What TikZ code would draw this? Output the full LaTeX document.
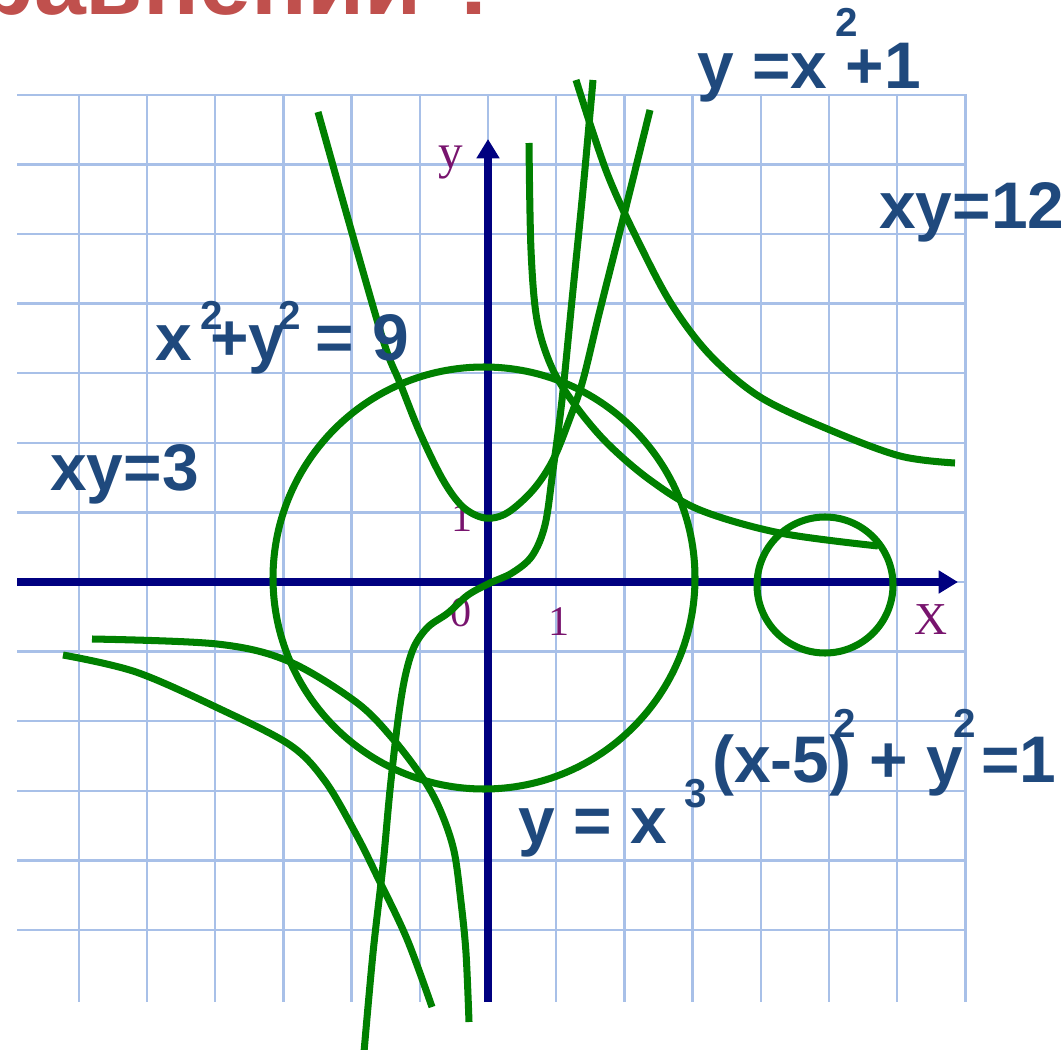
\documentclass[tikz,border=0pt]{standalone}
\usepackage{fontspec}
\setmainfont{Liberation Sans}
\newfontfamily\serifnum{Liberation Serif}
\usetikzlibrary{arrows.meta}
\definecolor{gridblue}{RGB}{168,192,232}
\definecolor{axisblue}{RGB}{0,0,128}
\definecolor{curvegreen}{RGB}{0,128,0}
\definecolor{eqblue}{RGB}{31,73,125}
\definecolor{tickpurple}{RGB}{120,20,110}
\definecolor{titlered}{RGB}{192,80,77}
\tikzset{
  gridline/.style={draw=gridblue, line width=1.4pt},
  axis/.style={draw=axisblue, line width=4pt, -{Triangle[length=11pt,width=12.5pt]}},
  curve/.style={draw=curvegreen, line width=4pt},
  eqn/.style={text=eqblue, font=\bfseries\fontsize{37.5}{40}\selectfont, inner sep=0pt, anchor=base west},
  pw/.style={text=eqblue, font=\bfseries\fontsize{23}{25}\selectfont, inner sep=0pt, anchor=base west},
  tick/.style={text=tickpurple, font=\serifnum\fontsize{24}{26}\selectfont, inner sep=0pt},
}
\begin{document}
\begin{tikzpicture}[x=0.02cm, y=-0.02cm]
\useasboundingbox (0,0) rectangle (1064,1050);
\clip (0,0) rectangle (1064,1050);

\node[text=titlered, font=\bfseries\fontsize{53}{56}\selectfont, inner sep=0pt, anchor=base east] (title) at (505,15) {уравнений ?};

% grid
\foreach \x in {-6,...,7}
    \draw[gridline] (488+68.2*\x,94) -- (488+68.2*\x,1002);
\foreach \y in {-5,...,7}
    \draw[gridline] (17,582-69.6*\y) -- (965,582-69.6*\y);

% axes
\coordinate (xs) at (17,582);
\coordinate (xe) at (958,582);
\coordinate (ys) at (488,1002);
\coordinate (ye) at (488,139);
\draw[axis] (xs) -- (xe);
\draw[axis] (ys) -- (ye);
\node[tick, font=\serifnum\fontsize{28}{30}\selectfont] (ylab) at (451,163) {y};
\node[tick, font=\serifnum\fontsize{26}{28}\selectfont] (xlab) at (931,620) {X};
\node[tick] (one1) at (462,518) {1};
\node[tick] (zero) at (461,613) {0};
\node[tick] (one2) at (559,622) {1};

% circles
\draw[curve] (484,578) circle[radius=211];
\draw[curve] (825,585) circle[radius=68];

% y = x^2+1
\draw[curve] plot[smooth, tension=0.55] coordinates {(318,112) (352,233) (384,343) (400,383) (420,433) (443,480) (463,507) (485,518) (507,513) (533,490) (553,460) (570,418) (583,380) (600,310) (624,215) (650,110)};

% y = x^3
\draw[curve] plot[smooth, tension=0.55] coordinates {(593,80) (583,190) (572,300) (562,400) (553,470) (545,525) (532,556) (512,573) (490,583) (468,595) (448,613) (428,627) (414,647) (405,677) (398,720) (390,790) (383,865) (373,953) (364,1052)};

% xy = 3
\draw[curve] plot[smooth, tension=0.55] coordinates {(529,143) (531,250) (537,320) (552,368) (575,405) (607,443) (650,480) (700,510) (780,533) (878,546)};
\draw[curve] plot[smooth, tension=0.55] coordinates {(92,639) (217,644) (288,661) (356,702) (393,739) (424,780) (441,812) (454,851) (461,902) (466,953) (469,1022)};

% xy = 12
\draw[curve] plot[smooth, tension=0.55] coordinates {(576,80) (607,173) (640,245) (672,305) (710,355) (760,397) (830,430) (900,456) (955,463)};
\draw[curve] plot[smooth, tension=0.55] coordinates {(63,655) (136,672) (220,709) (290,745) (325,781) (356,834) (378,878) (407,939) (432,1007)};

% equations
\node[eqn] (eqA) at (697,89) {y =x +1};
\node[pw] (eqAp) at (835,37) {2};
\node[eqn] (eqB) at (879,229) {xy=12};
\node[eqn] (eqC) at (155,361) {x +y\kern7pt{} = 9};
\node[pw] (eqCp) at (200,330) {2};
\node[pw] (eqCq) at (278,330) {2};
\node[eqn] (eqD) at (50,490) {xy=3};
\node[eqn] (eqE) at (712,782) {(x-5) + y =1};
\node[pw] (eqEp) at (833,737) {2};
\node[pw] (eqEq) at (953,737) {2};
\node[eqn] (eqF) at (518,843) {y = x};
\node[pw] (eqFp) at (684,807) {3};
\end{tikzpicture}
\end{document}
